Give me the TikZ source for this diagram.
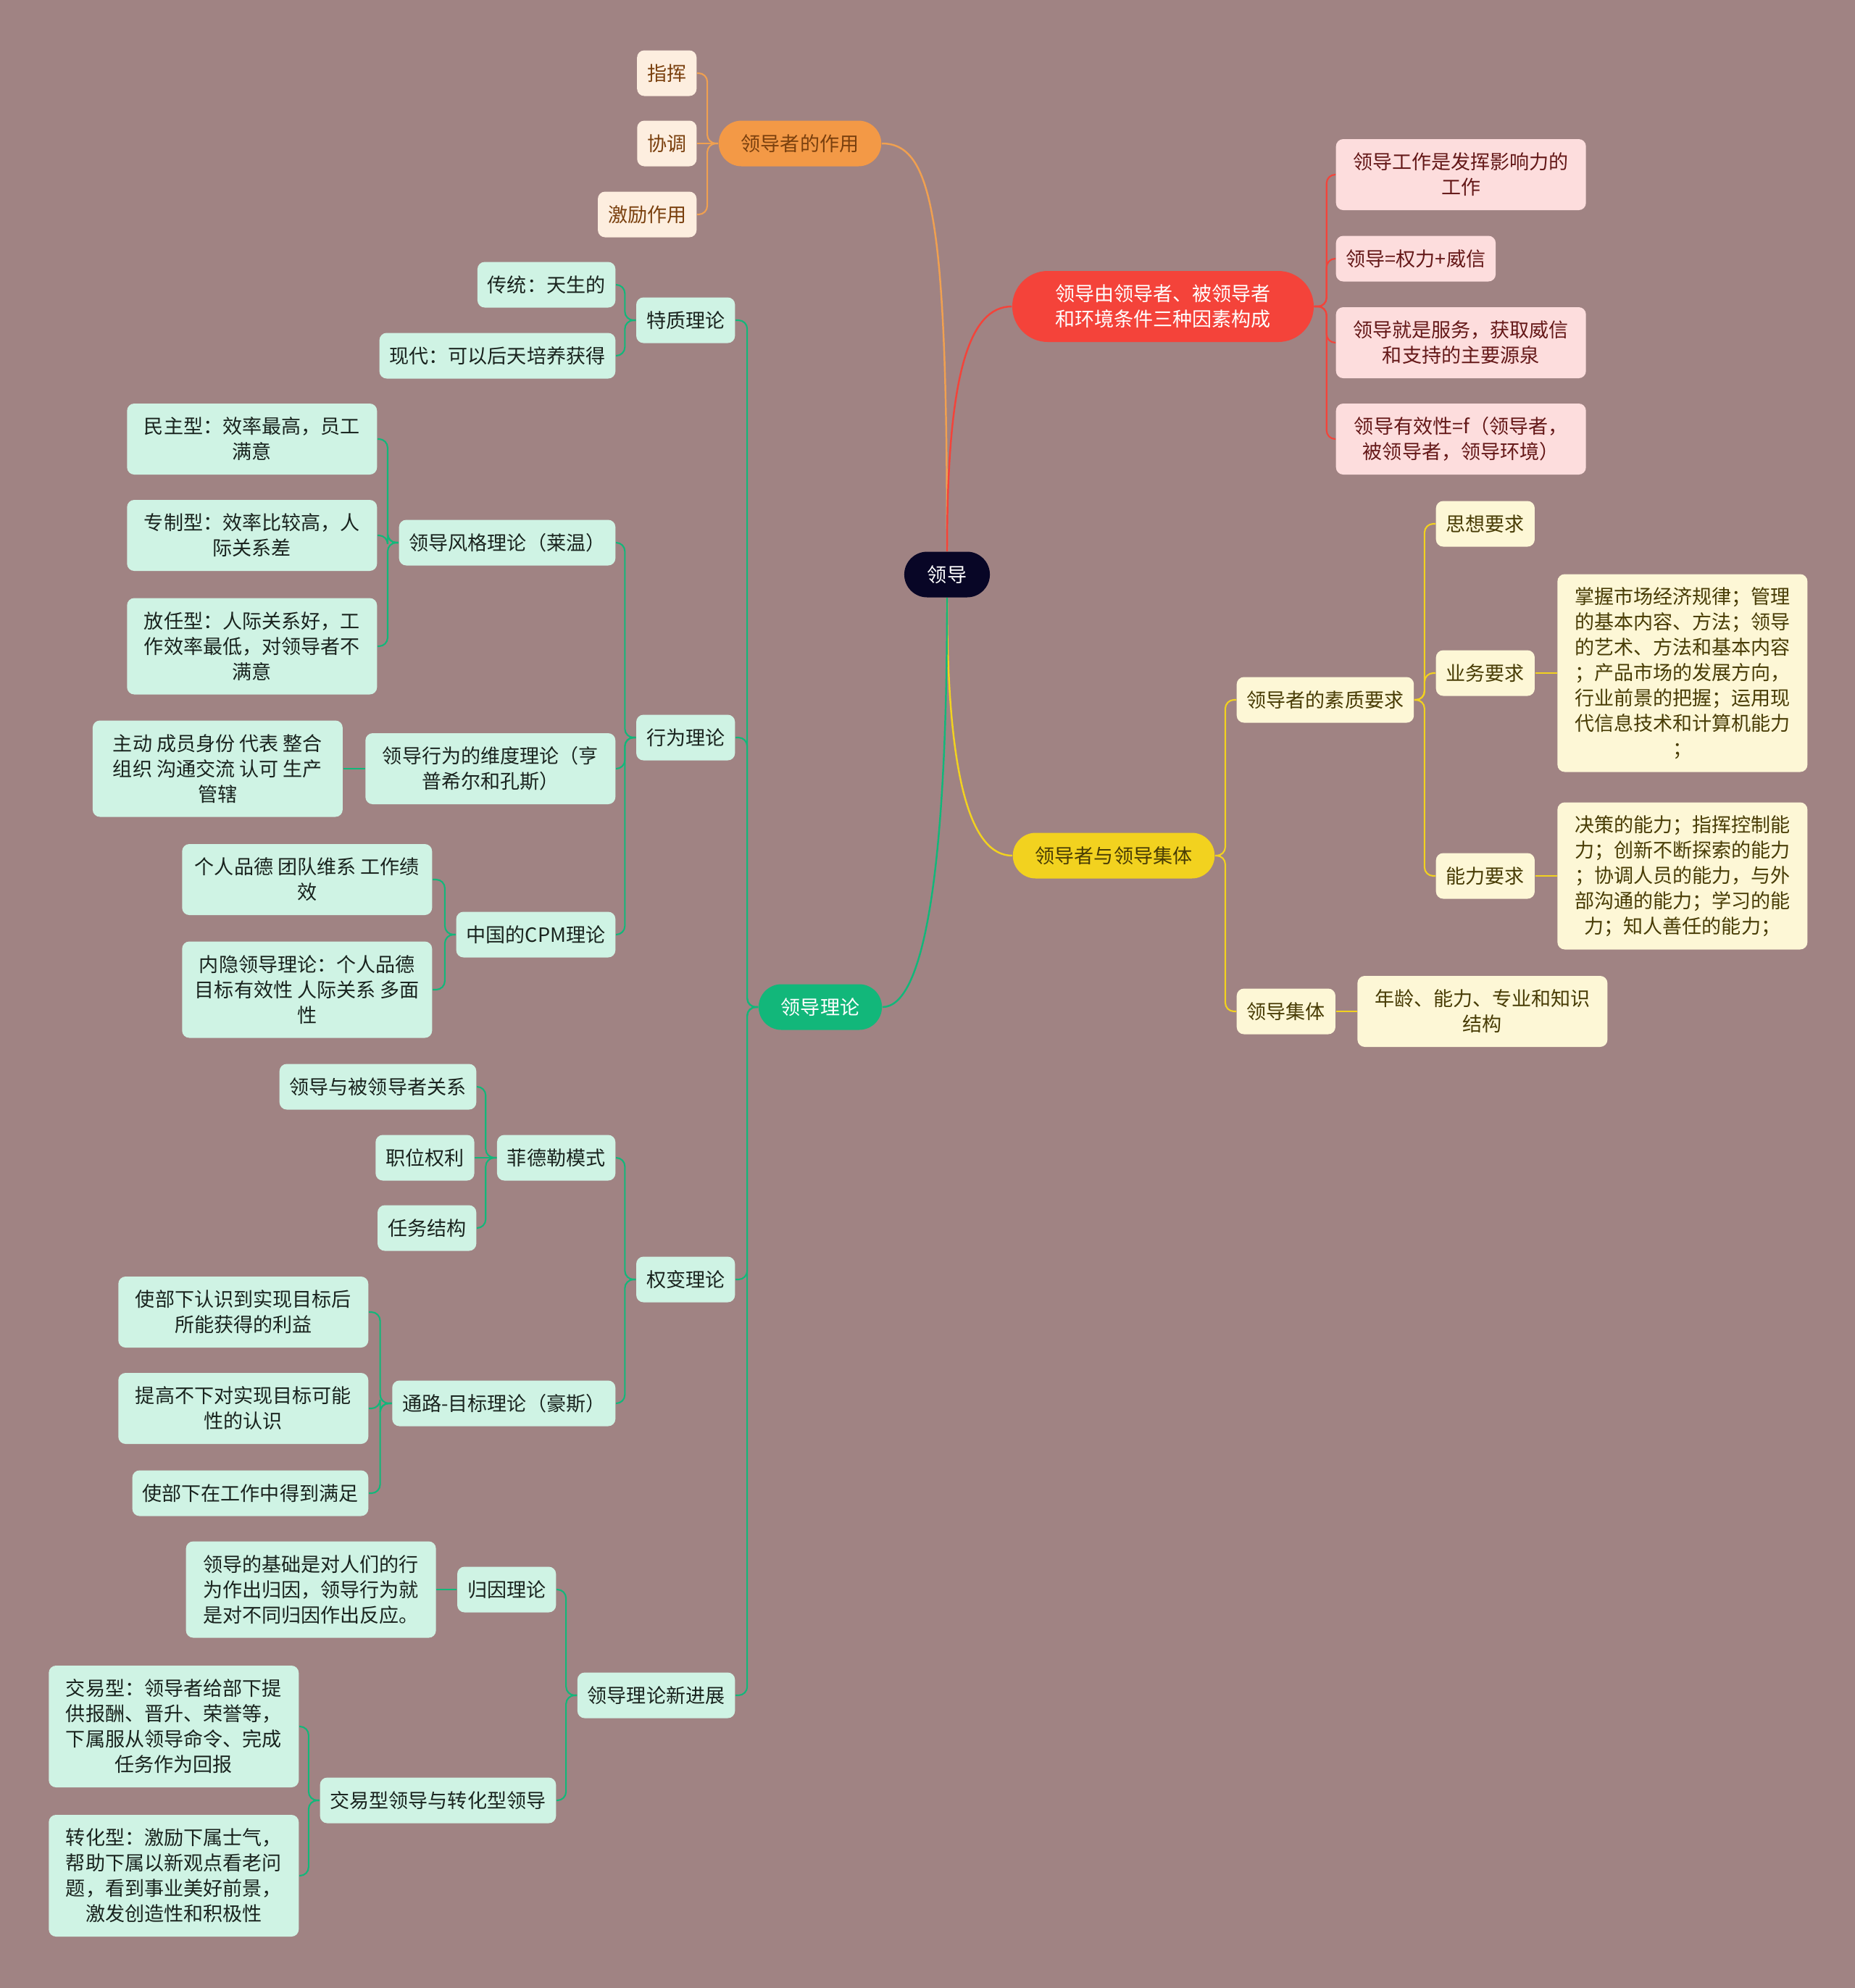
\documentclass[tikz,border=0pt]{standalone}
\usepackage{fontspec}
\setmainfont{Noto Sans CJK SC}
\usepackage{tikz}
\usetikzlibrary{positioning}

\definecolor{bgc}{RGB}{160,131,131}
\definecolor{rootc}{RGB}{8,6,38}
\definecolor{orangec}{RGB}{243,153,70}
\definecolor{orangeln}{RGB}{240,160,80}
\definecolor{peachc}{RGB}{253,238,223}
\definecolor{peachtx}{RGB}{122,64,14}
\definecolor{redc}{RGB}{244,67,58}
\definecolor{pinkc}{RGB}{253,221,221}
\definecolor{pinktx}{RGB}{100,24,24}
\definecolor{yellowc}{RGB}{242,210,31}
\definecolor{lemonc}{RGB}{253,247,214}
\definecolor{lemontx}{RGB}{72,60,5}
\definecolor{greenc}{RGB}{18,183,122}
\definecolor{mintc}{RGB}{207,243,228}
\definecolor{minttx}{RGB}{25,35,30}

\begin{document}
\begin{tikzpicture}[
  root/.style={fill=rootc, text=white, rounded corners=0.315cm, minimum height=0.63cm, inner xsep=0.32cm, inner ysep=0.1cm, font=\fontsize{7.7}{9.96}\selectfont},
  branch/.style={rounded corners=0.315cm, minimum height=0.63cm, inner xsep=0.31cm, inner ysep=0.1cm, font=\fontsize{7.7}{9.96}\selectfont},
  leaf/.style={rounded corners=0.1cm, minimum height=0.63cm, inner xsep=0.14cm, inner ysep=0.1cm, align=center, font=\fontsize{7.7}{9.96}\selectfont},
  peach/.style={leaf, fill=peachc, text=peachtx},
  pink/.style={leaf, fill=pinkc, text=pinktx},
  lemon/.style={leaf, fill=lemonc, text=lemontx},
  mint/.style={leaf, fill=mintc, text=minttx},
  wide/.style={minimum width=3.45cm},
  nrows/.style={minimum height={0.35cm*#1+0.28cm}},
  curve/.style={draw=#1, line width=0.7pt},
  link/.style={draw=#1, line width=0.6pt, rounded corners=0.12cm}
]
\fill[bgc, use as bounding box] (0,0) rectangle (25.6,-27.44);

\node[root] (lingdao) at (13.07,-7.93) {领导};

% 领导者的作用
\node[branch, fill=orangec, text=peachtx] (zuoyong) at (11.04,-1.98) {领导者的作用};
\node[peach, anchor=east] (zhihui) at (9.62,-1.01) {指挥};
\node[peach, left=0.29cm of zuoyong] (xietiao) {协调};
\node[peach, anchor=east] (jili) at (9.62,-2.96) {激励作用};

% 三种因素
\node[branch, fill=redc, text=white, align=center, minimum width=4.16cm, minimum height=0.98cm, rounded corners=0.49cm] (yinsu) at (16.05,-4.23) {领导由领导者、被领导者\\和环境条件三种因素构成};
\node[pink, wide, nrows=2, anchor=west] (yingxiang) at (18.43,-2.41) {领导工作是发挥影响力的\\工作};
\node[pink, anchor=west] (quanli) at (18.43,-3.57) {领导=权力+威信};
\node[pink, wide, nrows=2, anchor=west] (fuwu) at (18.43,-4.73) {领导就是服务，获取威信\\和支持的主要源泉};
\node[pink, wide, nrows=2, anchor=west] (youxiao) at (18.43,-6.06) {领导有效性=f（领导者，\\被领导者，领导环境）};

% 领导者与领导集体
\node[branch, fill=yellowc, text=lemontx] (jiti) at (15.37,-11.81) {领导者与领导集体};
\node[lemon, anchor=west] (suzhi) at (17.06,-9.66) {领导者的素质要求};
\node[lemon, anchor=west] (sixiang) at (19.81,-7.23) {思想要求};
\node[lemon, anchor=west] (yewu) at (19.81,-9.29) {业务要求};
\node[lemon, wide, nrows=7, right=0.30cm of yewu] (yewutxt) {掌握市场经济规律；管理\\的基本内容、方法；领导\\的艺术、方法和基本内容\\；产品市场的发展方向，\\行业前景的把握；运用现\\代信息技术和计算机能力\\；};
\node[lemon, anchor=west] (nengli) at (19.81,-12.09) {能力要求};
\node[lemon, wide, nrows=5, right=0.30cm of nengli] (nenglitxt) {决策的能力；指挥控制能\\力；创新不断探索的能力\\；协调人员的能力，与外\\部沟通的能力；学习的能\\力；知人善任的能力；};
\node[lemon, anchor=west] (jiti2) at (17.06,-13.96) {领导集体};
\node[lemon, wide, nrows=2, right=0.29cm of jiti2] (jiegou) {年龄、能力、专业和知识\\结构};

% 领导理论
\node[branch, fill=greenc, text=white] (lilun) at (11.32,-13.90) {领导理论};
\node[mint, anchor=east] (tezhi) at (10.15,-4.42) {特质理论};
\node[mint, anchor=east] (chuantong) at (8.50,-3.93) {传统：天生的};
\node[mint, anchor=east] (xiandai) at (8.50,-4.91) {现代：可以后天培养获得};
\node[mint, anchor=east] (xingwei) at (10.15,-10.18) {行为理论};
\node[mint, anchor=east] (fengge) at (8.50,-7.49) {领导风格理论（莱温）};
\node[mint, wide, nrows=2, anchor=east] (minzhu) at (5.21,-6.06) {民主型：效率最高，员工\\满意};
\node[mint, wide, nrows=2, anchor=east] (zhuanzhi) at (5.21,-7.39) {专制型：效率比较高，人\\际关系差};
\node[mint, wide, nrows=3, anchor=east] (fangren) at (5.21,-8.92) {放任型：人际关系好，工\\作效率最低，对领导者不\\满意};
\node[mint, wide, nrows=2, anchor=east] (weidu) at (8.50,-10.61) {领导行为的维度理论（亨\\普希尔和孔斯）};
\node[mint, wide, nrows=3, left=0.30cm of weidu] (weidutxt) {主动 成员身份 代表 整合\\组织 沟通交流 认可 生产\\管辖};
\node[mint, anchor=east] (cpm) at (8.50,-12.90) {中国的CPM理论};
\node[mint, wide, nrows=2, anchor=east] (pinde) at (5.97,-12.14) {个人品德 团队维系 工作绩\\效};
\node[mint, wide, nrows=3, anchor=east] (neiyin) at (5.97,-13.66) {内隐领导理论：个人品德\\目标有效性 人际关系 多面\\性};
\node[mint, anchor=east] (quanbian) at (10.15,-17.66) {权变理论};
\node[mint, anchor=east] (feidele) at (8.50,-15.98) {菲德勒模式};
\node[mint, anchor=east] (guanxi) at (6.58,-15.00) {领导与被领导者关系};
\node[mint, left=0.30cm of feidele] (zhiwei) {职位权利};
\node[mint, anchor=east] (renwu) at (6.58,-16.95) {任务结构};
\node[mint, anchor=east] (tonglu) at (8.50,-19.37) {通路-目标理论（豪斯）};
\node[mint, wide, nrows=2, anchor=east] (liyi) at (5.09,-18.11) {使部下认识到实现目标后\\所能获得的利益};
\node[mint, wide, nrows=2, anchor=east] (renshi) at (5.09,-19.44) {提高不下对实现目标可能\\性的认识};
\node[mint, anchor=east] (manzu) at (5.09,-20.61) {使部下在工作中得到满足};
\node[mint, anchor=east] (xinjinzhan) at (10.15,-23.40) {领导理论新进展};
\node[mint, anchor=east] (guiyin) at (7.68,-21.94) {归因理论};
\node[mint, wide, nrows=3, left=0.28cm of guiyin] (guiyintxt) {领导的基础是对人们的行\\为作出归因，领导行为就\\是对不同归因作出反应。};
\node[mint, anchor=east] (jiaoyi) at (7.68,-24.85) {交易型领导与转化型领导};
\node[mint, wide, nrows=4, anchor=east] (jiaoyixing) at (4.13,-23.83) {交易型：领导者给部下提\\供报酬、晋升、荣誉等，\\下属服从领导命令、完成\\任务作为回报};
\node[mint, wide, nrows=4, anchor=east] (zhuanhua) at (4.13,-25.89) {转化型：激励下属士气，\\帮助下属以新观点看老问\\题，看到事业美好前景，\\激发创造性和积极性};

% main curves
\draw[curve=orangeln] (lingdao.north) .. controls +(0,4.6) and +(0.7,0) .. (zuoyong.east);
\draw[curve=redc] (lingdao.north) .. controls +(0,2.4) and +(-0.6,0) .. (yinsu.west);
\draw[curve=yellowc] (lingdao.south) .. controls +(0,-2.4) and +(-0.6,0) .. (jiti.west);
\draw[curve=greenc] (lingdao.south) .. controls +(0,-3.6) and +(0.6,0) .. (lilun.east);

% orange links
\draw[link=orangeln] (zuoyong.west) -- ++(-0.15,0) |- (zhihui.east);
\draw[link=orangeln] (zuoyong.west) -- (xietiao.east);
\draw[link=orangeln] (zuoyong.west) -- ++(-0.15,0) |- (jili.east);

% red links
\draw[link=redc] (yinsu.east) -- ++(0.17,0) |- (yingxiang.west);
\draw[link=redc] (yinsu.east) -- ++(0.17,0) |- (quanli.west);
\draw[link=redc] (yinsu.east) -- ++(0.17,0) |- (fuwu.west);
\draw[link=redc] (yinsu.east) -- ++(0.17,0) |- (youxiao.west);

% yellow links
\draw[link=yellowc] (jiti.east) -- ++(0.14,0) |- (suzhi.west);
\draw[link=yellowc] (jiti.east) -- ++(0.14,0) |- (jiti2.west);
\draw[link=yellowc] (suzhi.east) -- ++(0.14,0) |- (sixiang.west);
\draw[link=yellowc] (suzhi.east) -- ++(0.14,0) |- (yewu.west);
\draw[link=yellowc] (suzhi.east) -- ++(0.14,0) |- (nengli.west);
\draw[link=yellowc] (yewu.east) -- (yewutxt.west);
\draw[link=yellowc] (nengli.east) -- (nenglitxt.west);
\draw[link=yellowc] (jiti2.east) -- (jiegou.west);

% green links
\draw[link=greenc] (lilun.west) -- ++(-0.15,0) |- (tezhi.east);
\draw[link=greenc] (lilun.west) -- ++(-0.15,0) |- (xingwei.east);
\draw[link=greenc] (lilun.west) -- ++(-0.15,0) |- (quanbian.east);
\draw[link=greenc] (lilun.west) -- ++(-0.15,0) |- (xinjinzhan.east);
\draw[link=greenc] (tezhi.west) -- ++(-0.15,0) |- (chuantong.east);
\draw[link=greenc] (tezhi.west) -- ++(-0.15,0) |- (xiandai.east);
\draw[link=greenc] (xingwei.west) -- ++(-0.15,0) |- (fengge.east);
\draw[link=greenc] (xingwei.west) -- ++(-0.15,0) |- (weidu.east);
\draw[link=greenc] (xingwei.west) -- ++(-0.15,0) |- (cpm.east);
\draw[link=greenc] (fengge.west) -- ++(-0.15,0) |- (minzhu.east);
\draw[link=greenc] (fengge.west) -- ++(-0.15,0) |- (zhuanzhi.east);
\draw[link=greenc] (fengge.west) -- ++(-0.15,0) |- (fangren.east);
\draw[link=greenc] (weidu.west) -- (weidutxt.east);
\draw[link=greenc] (cpm.west) -- ++(-0.15,0) |- (pinde.east);
\draw[link=greenc] (cpm.west) -- ++(-0.15,0) |- (neiyin.east);
\draw[link=greenc] (quanbian.west) -- ++(-0.15,0) |- (feidele.east);
\draw[link=greenc] (quanbian.west) -- ++(-0.15,0) |- (tonglu.east);
\draw[link=greenc] (feidele.west) -- ++(-0.15,0) |- (guanxi.east);
\draw[link=greenc] (feidele.west) -- (zhiwei.east);
\draw[link=greenc] (feidele.west) -- ++(-0.15,0) |- (renwu.east);
\draw[link=greenc] (tonglu.west) -- ++(-0.16,0) |- (liyi.east);
\draw[link=greenc] (tonglu.west) -- ++(-0.16,0) |- (renshi.east);
\draw[link=greenc] (tonglu.west) -- ++(-0.16,0) |- (manzu.east);
\draw[link=greenc] (xinjinzhan.west) -- ++(-0.15,0) |- (guiyin.east);
\draw[link=greenc] (xinjinzhan.west) -- ++(-0.15,0) |- (jiaoyi.east);
\draw[link=greenc] (guiyin.west) -- (guiyintxt.east);
\draw[link=greenc] (jiaoyi.west) -- ++(-0.15,0) |- (jiaoyixing.east);
\draw[link=greenc] (jiaoyi.west) -- ++(-0.15,0) |- (zhuanhua.east);
\end{tikzpicture}
\end{document}
